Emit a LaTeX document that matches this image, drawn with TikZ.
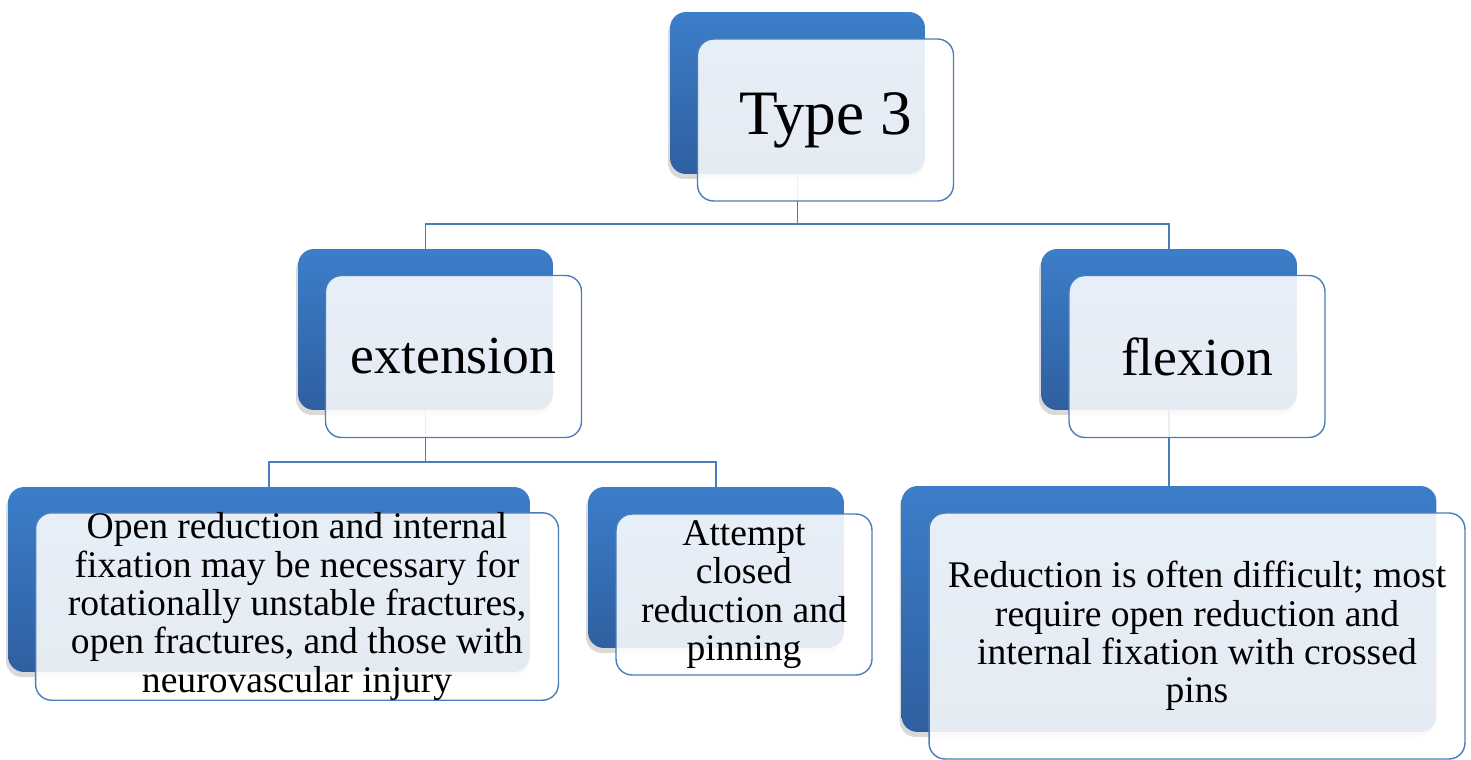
\documentclass[tikz,border=0pt]{standalone}
\usepackage{fontspec}
\setmainfont{Liberation Serif}
\usepackage{tikz}
\usetikzlibrary{positioning, shadows, calc}
\definecolor{boxblue}{HTML}{3C7EC9}
\definecolor{boxdark}{HTML}{2F5FA0}
\definecolor{lineblue}{HTML}{4A7EBB}
\pgfdeclarelayer{back}
\pgfsetlayers{back,main}

\begin{document}
\begin{tikzpicture}[x=0.02cm, y=-0.02cm,
  card/.style 2 args={rounded corners=0.32cm, top color=boxblue, bottom color=boxdark,
    draw=none, inner sep=0pt, minimum width=#1, minimum height=#2,
    drop shadow={opacity=0.3, shadow xshift=-0.04cm, shadow yshift=-0.1cm}},
  face/.style 2 args={rounded corners=0.32cm, draw=lineblue, line width=0.8pt,
    fill=white, fill opacity=0.88, text opacity=1, draw opacity=1,
    inner sep=0pt, minimum width=#1, minimum height=#2, align=center},
  link/.style={draw=lineblue, line width=1.1pt},
  big/.style={font=\fontsize{36}{42}\selectfont},
  mid/.style={font=\fontsize{30.5}{36}\selectfont},
  body/.style={font=\fontsize{21.4}{21.8}\selectfont}]
\useasboundingbox (0,0) rectangle (1471,760);

\node[card={5.1cm}{3.24cm}] (t3b) at (797.5,93) {};
\node[face={5.12cm}{3.24cm}, big] (t3) at ($(t3b)+(28,27)$) {Type 3};

\node[card={5.1cm}{3.22cm}] (extb) at (425.5,329.5) {};
\node[face={5.12cm}{3.24cm}, mid] (ext) at ($(extb)+(28,27)$) {extension};

\node[card={5.12cm}{3.22cm}] (flxb) at (1169,329.5) {};
\node[face={5.12cm}{3.24cm}, mid] (flx) at ($(flxb)+(28,27)$) {flexion};

\node[card={10.44cm}{3.7cm}] (c1b) at (269,579.5) {};
\node[face={10.46cm}{3.72cm}, body] (c1) at ($(c1b)+(28,27)$)
  {Open reduction and internal\\fixation may be necessary for\\rotationally unstable fractures,\\open fractures, and those with\\neurovascular injury};

\node[card={5.12cm}{3.22cm}] (c2b) at (716,567.5) {};
\node[face={5.12cm}{3.22cm}, body] (c2) at ($(c2b)+(28,27)$)
  {Attempt\\closed\\reduction and\\pinning};

\node[card={10.7cm}{4.92cm}] (c3b) at (1169,609) {};
\node[face={10.72cm}{4.92cm}, body] (c3) at ($(c3b)+(28,27)$)
  {Reduction is often difficult; most\\require open reduction and\\internal fixation with crossed\\pins};

\begin{pgfonlayer}{back}
\coordinate (j1) at (797.5,224);
\coordinate (j2) at (425.5,462);
\draw[link] (t3b.center) -- (j1) -| (extb.center);
\draw[link] (j1) -| (flxb.center);
\draw[link] (extb.center) -- (j2) -| (c1b.center);
\draw[link] (j2) -| (c2b.center);
\draw[link] (flxb.center) -- (c3b.center);
\end{pgfonlayer}
\end{tikzpicture}
\end{document}
